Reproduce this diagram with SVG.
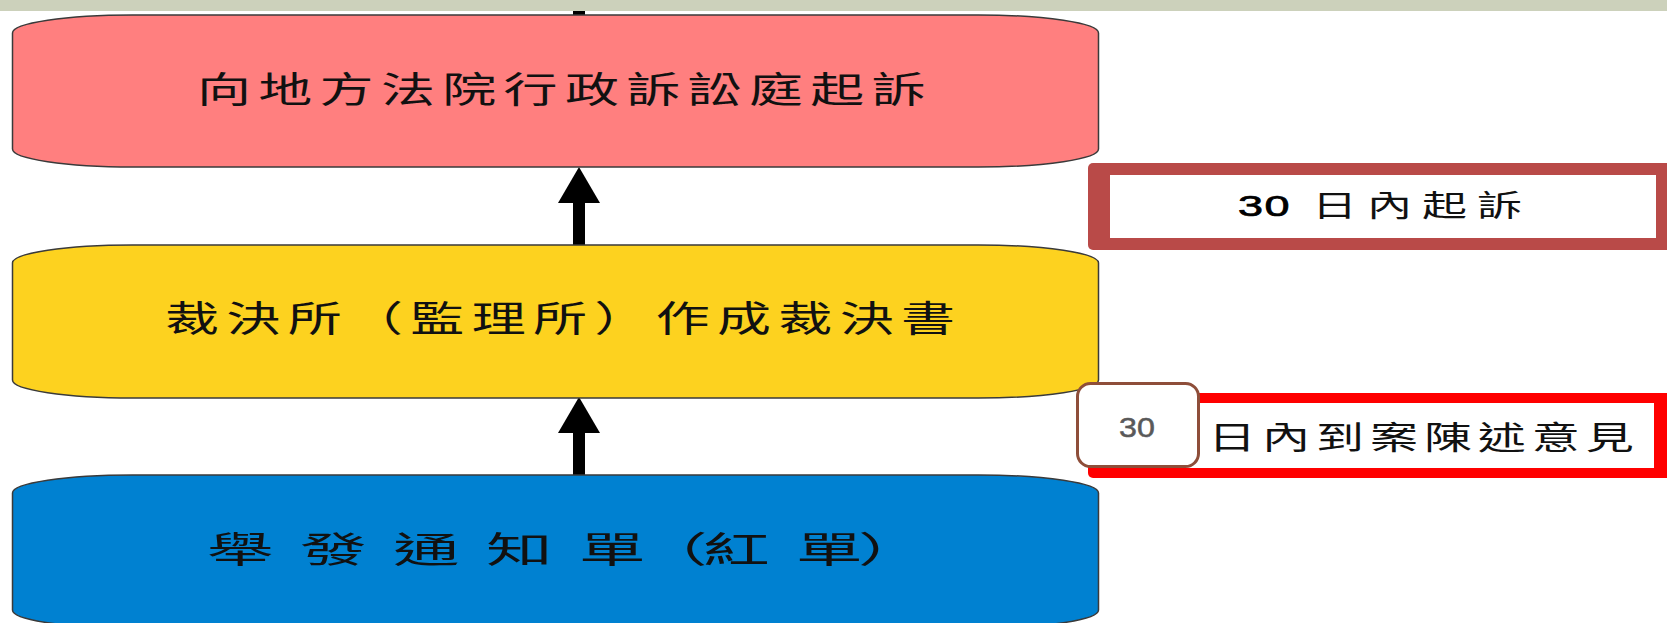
<svg xmlns="http://www.w3.org/2000/svg" width="1667" height="623" viewBox="0 0 1667 623">
<style>
.node{stroke:#3a3a3a;stroke-width:1.5}
.cjk{font-family:"Noto Sans CJK TC","Noto Sans CJK JP",sans-serif;fill:#111}
.jp{font-family:"Noto Sans CJK JP","Noto Sans CJK TC",sans-serif}
.lat{font-family:"Liberation Sans",Arial,sans-serif}
.conn{stroke:#000;stroke-width:12;fill:none}
</style>
<defs>
<marker id="ah" markerUnits="userSpaceOnUse" markerWidth="36" markerHeight="42" viewBox="0 0 36 42" refX="0" refY="21" orient="auto">
<path d="M0,0 L36,21 L0,42 Z" fill="#000"/>
</marker>
</defs>
<rect x="0" y="0" width="1667" height="11" fill="#CCD1BB"/>
<g id="connectors">
<line class="conn" x1="579" y1="11" x2="579" y2="16"/>
<line class="conn" x1="579" y1="245" x2="579" y2="203" marker-end="url(#ah)"/>
<line class="conn" x1="579" y1="475" x2="579" y2="433" marker-end="url(#ah)"/>
</g>
<g id="node-court">
<rect class="node" x="12.5" y="15" width="1086" height="152" rx="120" ry="18" fill="#FF7F7F"/>
<text class="cjk" transform="scale(1.5,1)" x="131.3" y="103" font-size="36" letter-spacing="4.9">向地方法院行政訴訟庭起訴</text>
</g>
<g id="node-decision">
<rect class="node" x="12.5" y="245" width="1086" height="153" rx="120" ry="18" fill="#FDD21F"/>
<text class="cjk" transform="scale(1.5,1)" x="110" y="332" font-size="36" letter-spacing="4.9">裁決所<tspan class="jp">（</tspan>監理所<tspan class="jp">）</tspan>作成裁決書</text>
</g>
<g id="node-ticket">
<rect class="node" x="12.5" y="475" width="1086" height="153" rx="120" ry="18" fill="#0081D1"/>
<text class="cjk" transform="scale(1.85,1)" x="111.9 145.4 162.2 195.7 212.4 245.9 262.7 296.2 313" y="563" font-size="36">舉 發 通 知 單<tspan class="jp" x="346.5">（</tspan><tspan x="380 413.5 430.3">紅 單</tspan><tspan class="jp" x="463.8">）</tspan></text>
</g>
<g id="note-sue">
<rect x="1088" y="163" width="600" height="87" rx="5" fill="#B94A48"/>
<rect x="1110" y="175" width="546" height="63" fill="#FFFFFF"/>
<text transform="scale(1.5,1)" y="216"><tspan class="lat" x="825.3" font-size="30" letter-spacing="1" fill="#000" stroke="#000" stroke-width="0.7">30 </tspan><tspan class="cjk" x="874.7 911.3 948 984.7" font-size="30" fill="#222">日內起訴</tspan></text>
</g>
<g id="note-appear">
<rect x="1088" y="393" width="600" height="85" rx="5" fill="#FF0000"/>
<rect x="1100" y="403" width="554" height="65" fill="#FFFFFF"/>
<text class="cjk" transform="scale(1.5,1)" x="805.3" y="449" font-size="32" letter-spacing="4" fill="#222">日內到案陳述意見</text>
</g>
<g id="badge-30">
<rect x="1077.5" y="383.5" width="121" height="83" rx="13" fill="#FFFFFF" stroke="#8E4E3A" stroke-width="3"/>
<text class="lat" transform="scale(1.15,1)" x="988.7" y="437" font-size="28" fill="#595959" stroke="#595959" stroke-width="0.5" text-anchor="middle">30</text>
</g>
</svg>
